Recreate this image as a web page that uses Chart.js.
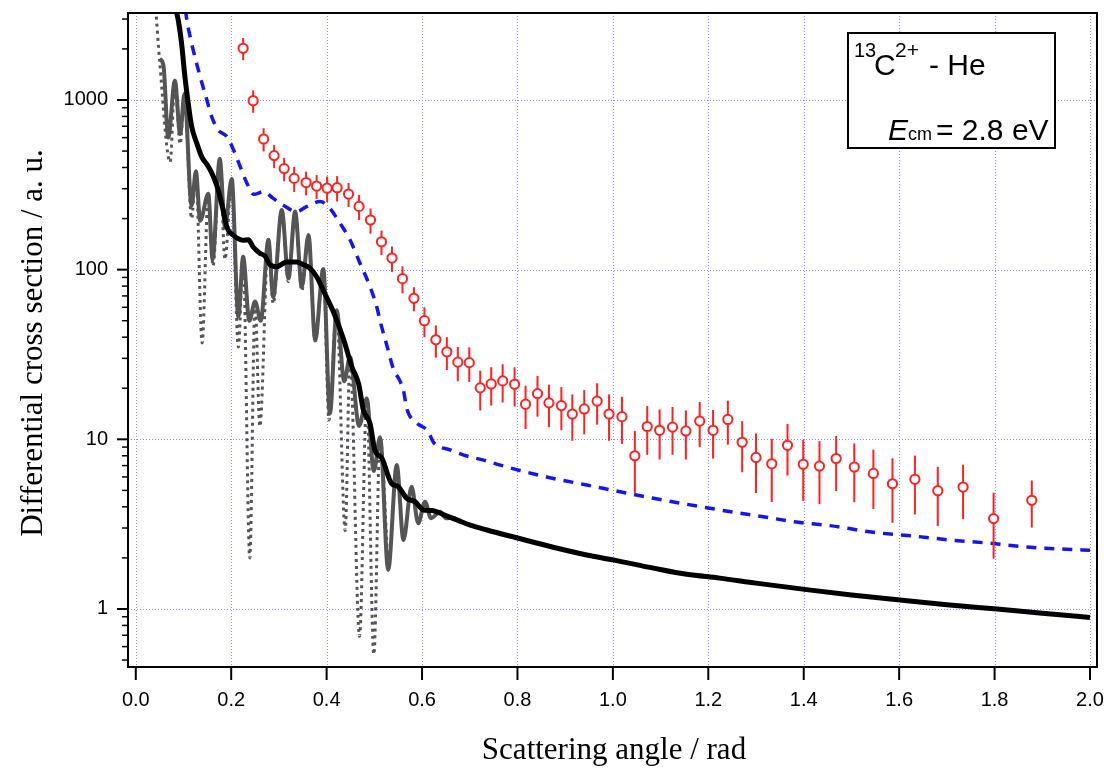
<!DOCTYPE html>
<html>
<head>
<meta charset="utf-8">
<script src="https://cdn.jsdelivr.net/npm/chart.js@4.4.1/dist/chart.umd.min.js"></script>
<style>
  html, body { margin: 0; padding: 0; background: #ffffff; }
  #wrap { width: 1112px; height: 771px; }
</style>
</head>
<body>
<div id="wrap"><canvas id="c" width="1112" height="771"></canvas></div>
<script>
// ---------------- data ----------------
const xTickValues = [0.0, 0.2, 0.4, 0.6, 0.8, 1.0, 1.2, 1.4, 1.6, 1.8, 2.0];
const yTickValues = [1, 10, 100, 1000];
const yMinorValues = [0.5, 0.6, 0.7, 0.8, 0.9, 2, 3, 4, 5, 6, 7, 8, 9, 20, 30, 40, 50, 60, 70, 80, 90,
  200, 300, 400, 500, 600, 700, 800, 900, 2000, 3000];

// quantum calculation (dotted grey)
const dottedX = [0.042,0.050,0.072,0.082,0.093,0.102,0.117,0.126,0.139,0.152,0.162,0.176,0.187,0.201,0.215,0.225,0.239,0.250,0.260,0.278,0.288,0.306,0.320,0.334,0.348,0.362,0.376,0.393,0.405,0.421,0.439,0.449,0.469,0.484,0.499,0.512,0.529];
const dottedY = [3400,1700,430,1300,550,1090,200,380,37,280,105,450,115,342,35,119,2.0,65,11.9,150,63,225,85,220,75,160,38,101,13,57.6,2.9,30.6,0.69,17.4,0.54,10.3,1.7];

// convolved calculation (solid grey)
const solidX = [0.050,0.058,0.068,0.082,0.093,0.102,0.117,0.126,0.135,0.152,0.161,0.176,0.187,0.201,0.215,0.225,0.238,0.250,0.262,0.278,0.288,0.306,0.320,0.334,0.348,0.362,0.376,0.393,0.407,0.421,0.437,0.449,0.468,0.484,0.499,0.512,0.529,0.547,0.561,0.578,0.592,0.606,0.619,0.638,0.650,0.665,0.680];
const solidY = [1750,1600,600,1300,630,1090,238,380,194,280,115,450,178,342,53,119,50,65,50,150,69,225,89,220,79,160,38.5,101,14.2,57.6,22,30.6,12,17.4,6.5,10.3,1.7,7.06,2.55,5.26,3.2,4.29,3.43,3.74,3.43,3.45,3.25];

// semiclassical (thick black)
const blackX = [0.084,0.089,0.096,0.103,0.110,0.117,0.128,0.138,0.152,0.163,0.173,0.183,0.192,0.204,0.215,0.225,0.236,0.246,0.260,0.271,0.281,0.295,0.316,0.337,0.351,0.365,0.380,0.393,0.414,0.435,0.453,0.467,0.477,0.491,0.501,0.516,0.536,0.550,0.568,0.585,0.603,0.620,0.650,0.673,0.701,0.736,0.802,0.875,0.945,1.003,1.085,1.155,1.224,1.300,1.406,1.500,1.602,1.700,1.805,1.900,2.000];
const blackY = [3400,2960,2160,1370,955,700,555,464,405,352,294,225,175,160,152,149,150,136,125,120,107,104,111,111,107,102,90,75.5,56.6,39.3,26.7,21.3,14.9,12.4,8.66,7.7,5.5,5.26,4.49,4.29,3.83,3.8,3.55,3.35,3.12,2.92,2.61,2.31,2.08,1.94,1.74,1.60,1.52,1.42,1.30,1.21,1.13,1.06,1.0,0.945,0.89];

// second calculation (blue dashed)
const blueX = [0.104,0.107,0.117,0.135,0.149,0.159,0.173,0.191,0.205,0.219,0.233,0.247,0.268,0.288,0.309,0.337,0.358,0.386,0.404,0.428,0.449,0.470,0.491,0.505,0.512,0.526,0.540,0.554,0.561,0.568,0.589,0.613,0.624,0.659,0.694,0.729,0.764,0.805,0.868,0.945,1.015,1.085,1.155,1.253,1.315,1.378,1.455,1.546,1.630,1.707,1.790,1.875,1.950,2.000];
const blueY = [3400,2960,2160,1370,1000,798,665,608,507,404,323,278,288,263,240,220,235,252,235,188,150,109,79.4,60.5,50,36,26,22,19.5,15.2,12.5,11.1,9.6,8.66,7.97,7.54,7.05,6.55,5.94,5.38,4.91,4.49,4.14,3.72,3.5,3.27,3.1,2.83,2.69,2.55,2.44,2.31,2.25,2.22];

// experiment (red circles with error bars)
const expX = [0.225,0.246,0.268,0.290,0.311,0.332,0.357,0.379,0.401,0.422,0.446,0.468,0.492,0.515,0.537,0.559,0.583,
  0.605,0.629,0.652,0.675,0.699,0.722,0.745,0.769,0.794,0.817,0.842,0.866,0.892,0.915,0.940,0.967,0.992,1.019,1.046,1.072,1.098,1.125,1.153,1.182,1.210,1.241,1.271,
  1.300,1.333,1.366,1.399,1.433,1.468,1.506,1.546,1.586,1.633,1.681,1.734,1.798,1.878];
const expY = [2017,990,589,470,394,345,326,311,302,304,279,236,196,146,117,88.5,67.8,
  50,38.6,32.8,28.5,28.3,20.1,21.2,22.1,21.1,16.1,18.6,16.4,15.8,14.1,15.1,16.8,14.1,13.6,8.0,11.9,11.3,11.8,11.2,12.8,11.3,13.1,9.6,
  7.82,7.17,9.22,7.13,6.95,7.7,6.86,6.29,5.47,5.81,4.98,5.23,3.41,4.37];
const expErr = [300,150,92,73,62,58,52,50,52,52,45,40,33,24,20,16,11,
  10,8.3,7.2,6.5,6.5,5.3,5.4,5.6,5.5,4.6,5.0,4.6,4.5,4.3,4.4,4.6,4.3,4.2,3.2,3.8,3.7,3.7,3.6,3.8,3.6,3.8,3.2,
  3.0,2.9,3.1,2.8,2.8,2.75,2.6,2.4,2.25,2.2,1.9,1.85,1.43,1.35];

const legendLine1 = { mass: '13', ion: 'C', charge: '2+', rest: '- He' };
const legendLine2 = { sym: 'E', sub: 'cm', rest: '= 2.8 eV' };
const xTitle = 'Scattering angle / rad';
const yTitle = 'Differential cross section / a. u.';

// ---------------- helpers ----------------
const pts = (xs, ys) => xs.map((x, i) => ({ x: x, y: ys[i] }));
const XMIN = -0.0163, XMAX = 2.0147, YMIN = 0.455, YMAX = 3256;
const SANS = "'Liberation Sans', Arial, sans-serif";
const SERIF = "'Liberation Serif', 'Times New Roman', serif";
const noPad = s => { s.paddingTop = 0; s.paddingBottom = 0; s.paddingLeft = 0; s.paddingRight = 0; };

const decor = {
  id: 'decor',
  beforeDatasetsDraw(chart) {
    const { ctx, chartArea: a, scales: { x, y } } = chart;
    ctx.save();
    ctx.strokeStyle = '#8c8cff';
    ctx.lineWidth = 1;
    ctx.setLineDash([1, 2]);
    xTickValues.forEach(v => {
      const px = Math.round(x.getPixelForValue(v)) + 0.5;
      ctx.beginPath(); ctx.moveTo(px, a.top); ctx.lineTo(px, a.bottom); ctx.stroke();
    });
    yTickValues.forEach(v => {
      const py = Math.round(y.getPixelForValue(v)) + 0.5;
      ctx.beginPath(); ctx.moveTo(a.left, py); ctx.lineTo(a.right, py); ctx.stroke();
    });
    ctx.restore();
  },
  beforeDatasetDraw(chart, args) {
    if (chart.data.datasets[args.index].label !== 'experiment') return;
    const { ctx, chartArea: a, scales: { x, y } } = chart;
    ctx.save();
    ctx.beginPath(); ctx.rect(a.left, a.top, a.right - a.left, a.bottom - a.top); ctx.clip();
    ctx.strokeStyle = '#ff2020';
    ctx.lineWidth = 2;
    expX.forEach((xv, i) => {
      const px = x.getPixelForValue(xv);
      const y1 = y.getPixelForValue(expY[i] + expErr[i]);
      const y2 = y.getPixelForValue(Math.max(expY[i] - expErr[i], YMIN / 2));
      ctx.beginPath(); ctx.moveTo(px, y1); ctx.lineTo(px, y2); ctx.stroke();
    });
    ctx.restore();
  },
  afterDraw(chart) {
    const { ctx, chartArea: a, scales: { x, y } } = chart;
    ctx.save();
    // frame
    ctx.strokeStyle = '#000';
    ctx.lineWidth = 2;
    ctx.setLineDash([]);
    ctx.strokeRect(a.left, a.top, a.right - a.left, a.bottom - a.top);
    // x ticks
    ctx.lineWidth = 2;
    xTickValues.forEach(v => {
      const px = x.getPixelForValue(v);
      ctx.beginPath(); ctx.moveTo(px, a.bottom); ctx.lineTo(px, a.bottom + 13); ctx.stroke();
    });
    // y ticks
    yTickValues.forEach(v => {
      const py = y.getPixelForValue(v);
      ctx.beginPath(); ctx.moveTo(a.left, py); ctx.lineTo(a.left - 11, py); ctx.stroke();
    });
    ctx.lineWidth = 1.5;
    yMinorValues.forEach(v => {
      const py = y.getPixelForValue(v);
      ctx.beginPath(); ctx.moveTo(a.left, py); ctx.lineTo(a.left - 6, py); ctx.stroke();
    });
    // axis titles
    ctx.fillStyle = '#000';
    ctx.font = '31px ' + SERIF;
    ctx.textAlign = 'center';
    ctx.textBaseline = 'alphabetic';
    ctx.fillText(xTitle, 614, 759);
    ctx.save();
    ctx.translate(42, 343);
    ctx.rotate(-Math.PI / 2);
    ctx.fillText(yTitle, 0, 0);
    ctx.restore();
    // legend box
    ctx.fillStyle = '#fff';
    ctx.fillRect(848, 33, 207, 115);
    ctx.strokeStyle = '#000';
    ctx.lineWidth = 2;
    ctx.strokeRect(848, 33, 207, 115);
    ctx.fillStyle = '#000';
    ctx.textAlign = 'left';
    ctx.font = '20px ' + SANS;
    ctx.fillText(legendLine1.mass, 854, 57);
    ctx.font = '30px ' + SANS;
    ctx.fillText(legendLine1.ion, 874, 75);
    ctx.font = '21px ' + SANS;
    ctx.fillText(legendLine1.charge, 895, 57);
    ctx.font = '30px ' + SANS;
    ctx.fillText(legendLine1.rest, 929, 75);
    ctx.font = 'italic 30px ' + SANS;
    ctx.fillText(legendLine2.sym, 888, 140);
    ctx.font = '18px ' + SANS;
    ctx.fillText(legendLine2.sub, 908, 140);
    ctx.font = '30px ' + SANS;
    ctx.fillText(legendLine2.rest, 936, 140);
    ctx.restore();
  }
};

new Chart(document.getElementById('c'), {
  type: 'scatter',
  data: {
    datasets: [
      { label: 'experiment', data: pts(expX, expY), showLine: false, order: 0,
        pointRadius: 4.6, pointBorderWidth: 2, pointBorderColor: '#ff2020', pointBackgroundColor: '#ffffff' },
      { label: 'black', data: pts(blackX, blackY), showLine: true, order: 1, pointRadius: 0,
        borderColor: '#000000', borderWidth: 5, cubicInterpolationMode: 'monotone' },
      { label: 'blue', data: pts(blueX, blueY), showLine: true, order: 2, pointRadius: 0,
        borderColor: '#1515ef', borderWidth: 3.5, borderDash: [10, 8], cubicInterpolationMode: 'monotone' },
      { label: 'solid grey', data: pts(solidX, solidY), showLine: true, order: 3, pointRadius: 0,
        borderColor: '#555555', borderWidth: 4, cubicInterpolationMode: 'monotone' },
      { label: 'dotted grey', data: pts(dottedX, dottedY), showLine: true, order: 4, pointRadius: 0,
        borderColor: '#555555', borderWidth: 3, borderDash: [3, 4], cubicInterpolationMode: 'monotone' }
    ]
  },
  options: {
    responsive: false,
    animation: false,
    devicePixelRatio: 1,
    layout: { padding: { top: 13, right: 15, left: 0, bottom: 0 } },
    plugins: { legend: { display: false }, tooltip: { enabled: false } },
    scales: {
      x: {
        type: 'linear', min: XMIN, max: XMAX,
        afterBuildTicks: s => { s.ticks = xTickValues.map(v => ({ value: v })); },
        afterFit: s => { s.height = 104; noPad(s); },
        grid: { display: false, drawTicks: false },
        border: { display: false },
        ticks: { padding: 21, color: '#000', font: { family: SANS, size: 20 }, maxRotation: 0, autoSkip: false,
          callback: v => Number(v).toFixed(1) }
      },
      y: {
        type: 'logarithmic', min: YMIN, max: YMAX,
        afterBuildTicks: s => { s.ticks = yTickValues.map(v => ({ value: v })); },
        afterFit: s => { s.width = 128; noPad(s); },
        grid: { display: false, drawTicks: false },
        border: { display: false },
        ticks: { padding: 20, color: '#000', font: { family: SANS, size: 20 }, autoSkip: false,
          callback: v => String(v) }
      }
    }
  },
  plugins: [decor]
});
</script>
</body>
</html>
